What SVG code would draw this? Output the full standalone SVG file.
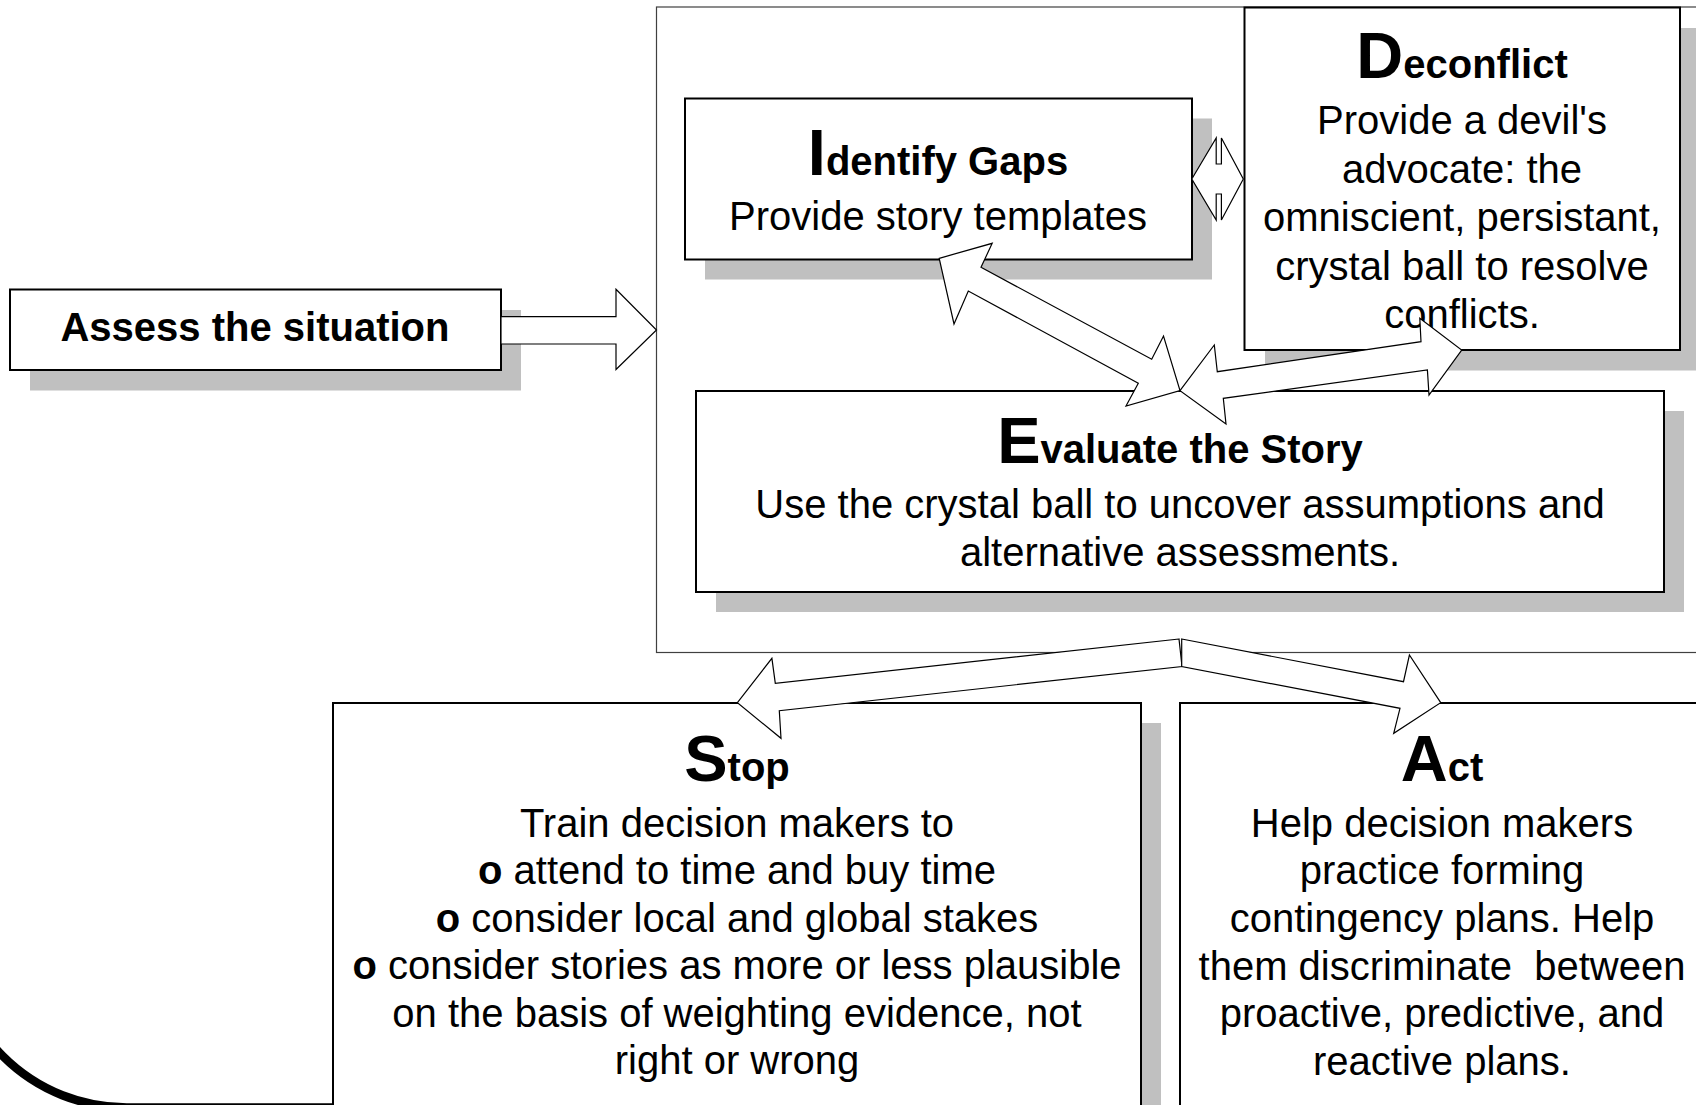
<svg xmlns="http://www.w3.org/2000/svg" width="1696" height="1105" viewBox="0 0 1696 1105">
  <style>
    .frame { fill: #ffffff; stroke: #404040; stroke-width: 1.2; }
    .shadow { fill: #c0c0c0; stroke: none; }
    .box { fill: #ffffff; stroke: #000000; stroke-width: 2; }
    .arrow { fill: #ffffff; stroke: #000000; stroke-width: 1.2; stroke-linejoin: miter; }
    text { font-family: "Liberation Sans", Arial, Helvetica, sans-serif; fill: #000000; text-anchor: middle; }
    .title { font-size: 40px; font-weight: bold; }
    .cap { font-size: 65px; font-weight: bold; }
    .body { font-size: 40px; }
    .b { font-weight: bold; }
  </style>

  <rect width="1696" height="1105" fill="#ffffff"/>

  <!-- enclosing frame around the sensemaking steps -->
  <rect class="frame" x="656.5" y="7" width="1100" height="645.5"/>

  <!-- decorative corner stroke at the lower left -->
  <path d="M -48.3,932.5 A 175 175 0 0 0 126.7,1107.5 L 333,1107.5" fill="none" stroke="#000000" stroke-width="8.5"/>

  <g id="identify">
    <rect class="shadow" x="705" y="118.5" width="507" height="161"/>
    <rect class="box" x="685" y="98.5" width="507" height="161"/>
    <text class="title" x="938" y="175"><tspan class="cap">I</tspan>dentify Gaps</text>
    <text class="body" x="938" y="230">Provide story templates</text>
  </g>

  <g id="deconflict">
    <rect class="shadow" x="1265" y="28" width="460" height="342.5"/>
    <rect class="box" x="1244.5" y="7.5" width="435.5" height="342.5"/>
    <text class="title" x="1462" y="78"><tspan class="cap">D</tspan>econflict</text>
    <text class="body" x="1462" y="134">Provide a devil's</text>
    <text class="body" x="1462" y="182.5">advocate: the</text>
    <text class="body" x="1462" y="231">omniscient, persistant,</text>
    <text class="body" x="1462" y="279.5">crystal ball to resolve</text>
    <text class="body" x="1462" y="328">conflicts.</text>
  </g>

  <g id="evaluate">
    <rect class="shadow" x="716" y="411" width="968" height="201"/>
    <rect class="box" x="696" y="391" width="968" height="201"/>
    <text class="title" x="1180" y="463"><tspan class="cap">E</tspan>valuate the Story</text>
    <text class="body" x="1180" y="518">Use the crystal ball to uncover assumptions and</text>
    <text class="body" x="1180" y="566">alternative assessments.</text>
  </g>

  <g id="stop">
    <rect class="shadow" x="353" y="723" width="808" height="450"/>
    <rect class="box" x="333" y="703" width="808" height="450"/>
    <text class="title" x="737" y="781"><tspan class="cap">S</tspan>top</text>
    <text class="body" x="737" y="836.5">Train decision makers to</text>
    <text class="body" x="737" y="884"><tspan class="b">o</tspan> attend to time and buy time</text>
    <text class="body" x="737" y="931.5"><tspan class="b">o</tspan> consider local and global stakes</text>
    <text class="body" x="737" y="979"><tspan class="b">o</tspan> consider stories as more or less plausible</text>
    <text class="body" x="737" y="1026.5">on the basis of weighting evidence, not</text>
    <text class="body" x="737" y="1074">right or wrong</text>
  </g>

  <g id="act">
    <rect class="box" x="1180" y="703" width="560" height="450"/>
    <text class="title" x="1442" y="781"><tspan class="cap">A</tspan>ct</text>
    <text class="body" x="1442" y="836.5">Help decision makers</text>
    <text class="body" x="1442" y="884.2">practice forming</text>
    <text class="body" x="1442" y="931.9">contingency plans. Help</text>
    <text class="body" x="1442" y="979.6" style="white-space:pre" xml:space="preserve">them discriminate  between</text>
    <text class="body" x="1442" y="1027.3">proactive, predictive, and</text>
    <text class="body" x="1442" y="1075">reactive plans.</text>
  </g>

  <g id="assess">
    <rect class="shadow" x="30" y="310" width="491" height="80.5"/>
    <rect class="box" x="10" y="289.5" width="491" height="80.5"/>
    <text class="title" x="255" y="341">Assess the situation</text>
  </g>

  <g id="connectors">
    <!-- assess -> frame -->
    <polygon class="arrow" points="501,316.7 616,316.7 616,289.3 656.5,330 616,369.5 616,344 501,344"/>
    <!-- identify <-> deconflict -->
    <polygon class="arrow" points="1191.8,179 1216.2,138 1216.2,164 1221.4,164 1221.4,138 1243.3,179 1221.4,220 1221.4,194 1216.2,194 1216.2,220"/>
    <!-- identify <-> evaluate -->
    <polygon class="arrow" points="939.2,258.3 992.2,243.3 981,267.3 1151.7,359.3 1163.5,336 1180,390.7 1126,406 1138.3,383.3 968.3,291 954,324"/>
    <!-- evaluate <-> deconflict -->
    <polygon class="arrow" points="1180,390.7 1214.3,345 1217.3,371.7 1421,341.7 1419.8,318.3 1461.7,350 1429,395 1427.4,370 1223.3,398.3 1226,424"/>
    <!-- frame -> stop -->
    <polygon class="arrow" points="1179,639 775.3,683.3 771.9,658.3 737.4,702.7 781,738.3 779.3,710.7 1182,666.5"/>
    <!-- frame -> act -->
    <polygon class="arrow" points="1181.7,639 1403.5,681.7 1409.4,655 1440.7,702.7 1393.7,733.3 1400,708.3 1181.7,666.5"/>
  </g>
</svg>
